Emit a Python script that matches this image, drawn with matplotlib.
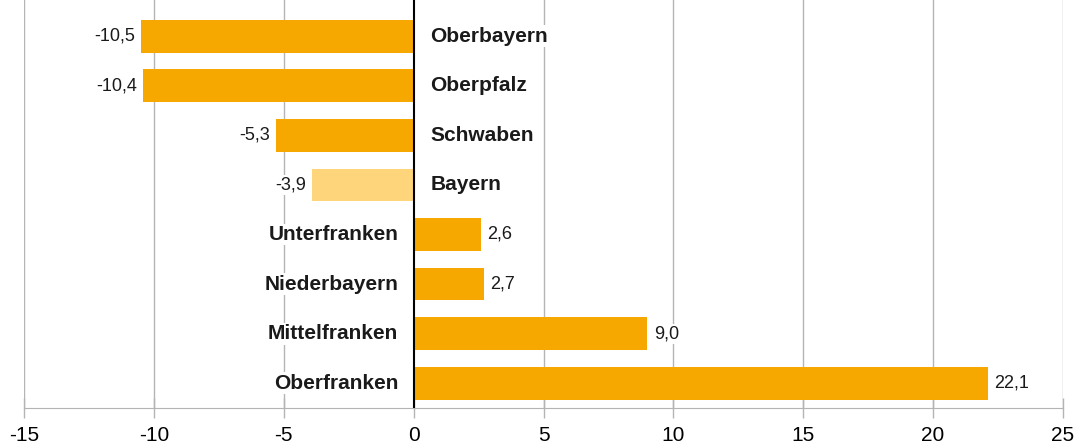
import matplotlib.pyplot as plt
import numpy as np

plt.rcParams['font.family'] = ['Liberation Sans', 'DejaVu Sans']

regions = ['Oberbayern', 'Oberpfalz', 'Schwaben', 'Bayern',
           'Unterfranken', 'Niederbayern', 'Mittelfranken', 'Oberfranken']
values = [-10.5, -10.4, -5.3, -3.9, 2.6, 2.7, 9.0, 22.1]
xticks = [-15, -10, -5, 0, 5, 10, 15, 20, 25]

orange = '#f6a800'
light = '#fed57a'

fig = plt.figure(figsize=(10.76, 4.46), dpi=100)
ax = fig.add_axes([24 / 1076, 38 / 446, 1039 / 1076, 408 / 446])

pos = np.arange(len(regions))[::-1]
colors = [light if r == 'Bayern' else orange for r in regions]
ax.barh(pos, values, height=0.66, color=colors, zorder=2)

ax.set_xlim(-15, 25)
ax.set_ylim(-0.5, 7.73)
ax.set_xticks(xticks)
ax.set_xticklabels([str(t) for t in xticks], fontsize=15)
ax.set_yticks([])
for t in xticks:
    if t != 0:
        ax.axvline(t, color='#b4b4b4', lw=1, zorder=0)
ax.axvline(0, color='black', lw=1.5, zorder=3)

for s in ['top', 'right', 'left']:
    ax.spines[s].set_visible(False)
ax.spines['bottom'].set_color('#b4b4b4')
ax.tick_params(axis='x', direction='inout', length=14, color='#b4b4b4',
               width=1, pad=6)

white = dict(facecolor='white', edgecolor='none', pad=1)
for p, r, v in zip(pos, regions, values):
    lab = f'{v:.1f}'.replace('.', ',')
    if v < 0:
        ax.annotate(r, (0, p), xytext=(12, 0), textcoords='offset points',
                    ha='left', va='center', fontsize=15, fontweight='bold',
                    color='#1a1a1a', bbox=white, zorder=4)
        ax.annotate(lab, (v, p), xytext=(-4.5, 0),
                    textcoords='offset points', ha='right', va='center',
                    fontsize=13, color='#1a1a1a', bbox=white, zorder=4)
    else:
        ax.annotate(r, (0, p), xytext=(-11, 0), textcoords='offset points',
                    ha='right', va='center', fontsize=15, fontweight='bold',
                    color='#1a1a1a', bbox=white, zorder=4)
        ax.annotate(lab, (v, p), xytext=(4.5, 0),
                    textcoords='offset points', ha='left', va='center',
                    fontsize=13, color='#1a1a1a', bbox=white, zorder=4)

fig.savefig('out.png', dpi=100)
